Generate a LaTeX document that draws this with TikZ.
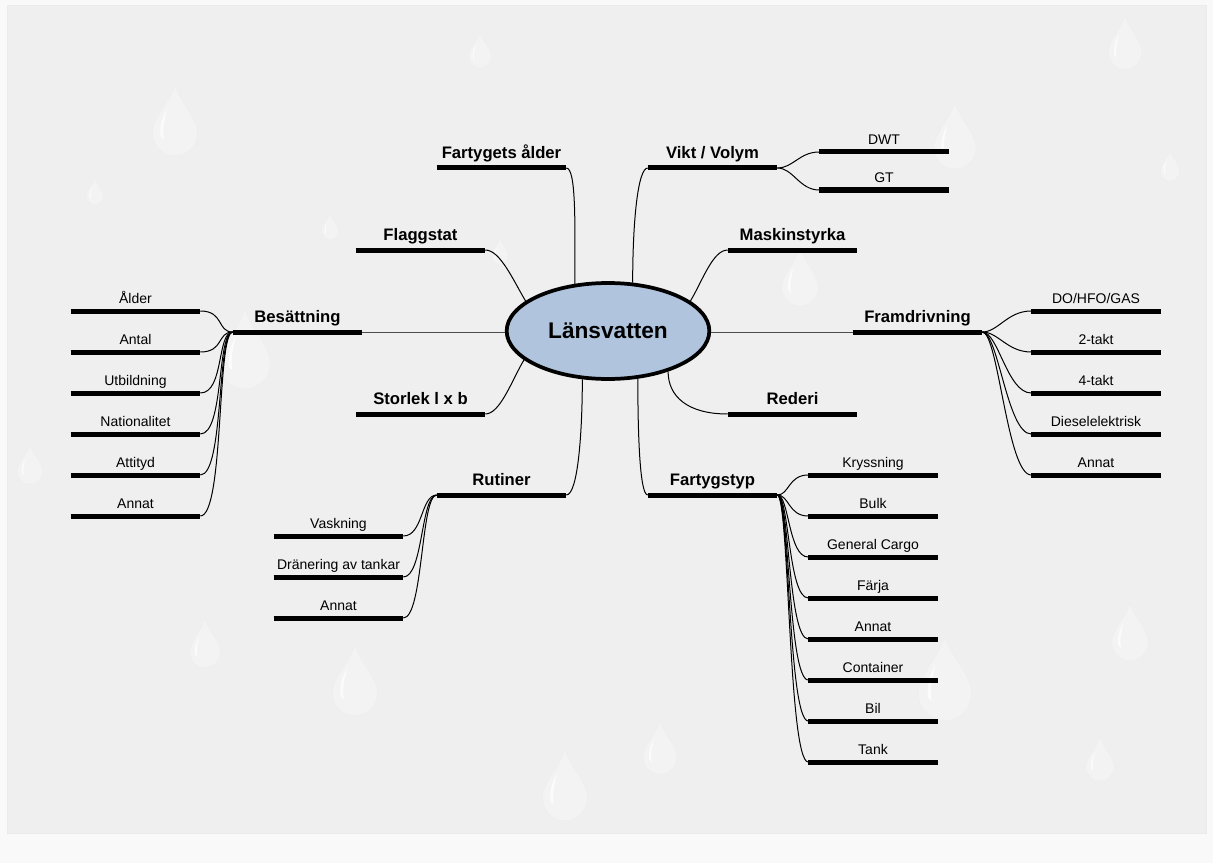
\documentclass[tikz,border=0pt]{standalone}
\usepackage{fontspec}
\setmainfont{Liberation Sans}
\usepackage{xcolor}
\usepackage{tikz}
\usetikzlibrary{shapes.geometric}

\definecolor{paper}{HTML}{EFEFEF}
\definecolor{hubfill}{HTML}{B0C4DE}

\tikzset{
    waterdrop/.pic={
        \filldraw[fill=white, fill opacity=0.3, draw=black!7, draw opacity=0.6] (0,-28) .. controls (4,-16) and (14,-8) .. (14,2)
            arc[start angle=0, end angle=180, radius=14] .. controls (-14,-8) and (-4,-16) .. cycle;
        \fill[white, opacity=0.7] (-9,4) .. controls (-10,-4) and (-7,-10) .. (-5,-13) .. controls (-7,-6) and (-8,0) .. (-7,6) -- cycle;
    }
}

\begin{document}
\begin{tikzpicture}[
    x=0.75pt, y=-0.75pt,
    hub/.style={ellipse, draw, line width=2.8pt, fill=hubfill, minimum width=152pt, minimum height=72pt, inner sep=0pt, font=\fontsize{17}{20}\selectfont\bfseries},
    topic/.style={anchor=south, minimum width=96.75pt, inner xsep=0pt, inner ysep=0pt, text height=9pt, text depth=6.75pt, font=\fontsize{12.5}{15}\selectfont\bfseries},
    sub/.style={anchor=south, minimum width=96.75pt, inner xsep=0pt, inner ysep=0pt, text height=7.5pt, text depth=5.25pt, font=\fontsize{10.5}{12}\selectfont},
    bar/.style={line width=3.75pt},
    link/.style={line width=0.75pt},
    flat/.style={line width=0.75pt, black!70}
]

% page
\fill[white!60!paper] (0,0) rectangle (1213,863);
\filldraw[fill=paper, draw=black!8] (7,5) rectangle (1206,833);

% drops in the background
\foreach \px/\py/\s in {175/130/1.6, 1125/50/1.2, 955/145/1.5, 245/360/1.8, 355/690/1.6, 565/795/1.6,
    1130/640/1.3, 800/285/1.3, 945/690/1.9, 205/650/1.1, 660/755/1.2, 30/470/0.9, 1100/765/1.0,
    480/55/0.8, 500/255/0.6, 330/230/0.6, 1170/170/0.7, 95/195/0.6}
    \pic[scale=\s] at (\px,\py) {waterdrop};

% centre
\node[hub] (core) at (608,331) {Länsvatten};

% main topics
\node[topic] (alder) at (501.5,168) {Fartygets ålder};
\node[topic] (vikt) at (712.5,168) {Vikt / Volym};
\node[topic] (flagg) at (420.5,250) {Flaggstat};
\node[topic] (maskin) at (792.5,250) {Maskinstyrka};
\node[topic] (besatt) at (297.5,332) {Besättning};
\node[topic] (framdr) at (917.5,332) {Framdrivning};
\node[topic] (storlek) at (420.5,414) {Storlek l x b};
\node[topic] (rederi) at (792.5,414) {Rederi};
\node[topic] (rutiner) at (501.5,495) {Rutiner};
\node[topic] (ftyp) at (712.5,495) {Fartygstyp};

\foreach \n in {alder,vikt,flagg,maskin,besatt,framdr,storlek,rederi,rutiner,ftyp}
    \draw[bar] (\n.south west) -- (\n.south east);

% links to the centre
\draw[link] (alder.south east) .. controls +(10,0) and +(0,-60) .. (core.125);
\draw[link] (vikt.south west) .. controls +(-10,0) and +(0,-60) .. (core.63);
\draw[link] (flagg.south east) .. controls +(15,0) and +(-12,-20) .. (core.160);
\draw[link] (maskin.south west) .. controls +(-15,0) and +(12,-20) .. (core.20);
\draw[flat] (besatt.south east) -- (besatt.south east -| core.west);
\draw[flat] (framdr.south west) -- (framdr.south west -| core.east);
\draw[link] (storlek.south east) .. controls +(15,0) and +(-12,20) .. (core.199);
\draw[link] (rederi.south west) .. controls +(-40,0) and +(0,25) .. (core.326);
\draw[link] (rutiner.south east) .. controls +(12,0) and +(0,50) .. (core.242);
\draw[link] (ftyp.south west) .. controls +(-8,0) and +(0,55) .. (core.302);

% sub topics
\foreach \t [count=\i] in {DWT,GT} {
    \node[sub] (vik\i) at (884,114+38*\i) {\t};
    \draw[bar] (vik\i.south west) -- (vik\i.south east);
    \draw[link] (vikt.south east) .. controls +(16,0) and +(-20,0) .. (vik\i.south west);
}
\foreach \t [count=\i] in {Ålder,Antal,Utbildning,Nationalitet,Attityd,Annat} {
    \node[sub] (bes\i) at (135.5,270+41*\i) {\t};
    \draw[bar] (bes\i.south west) -- (bes\i.south east);
    \draw[link] (besatt.south west) .. controls +(-16,0) and +(24,0) .. (bes\i.south east);
}
\foreach \t [count=\i] in {DO/HFO/GAS,2-takt,4-takt,Dieselelektrisk,Annat} {
    \node[sub] (fra\i) at (1096,270+41*\i) {\t};
    \draw[bar] (fra\i.south west) -- (fra\i.south east);
    \draw[link] (framdr.south east) .. controls +(16,0) and +(-24,0) .. (fra\i.south west);
}
\foreach \t [count=\i] in {Vaskning,Dränering av tankar,Annat} {
    \node[sub] (rut\i) at (338.5,495+41*\i) {\t};
    \draw[bar] (rut\i.south west) -- (rut\i.south east);
    \draw[link] (rutiner.south west) .. controls +(-16,0) and +(20,0) .. (rut\i.south east);
}
\foreach \t [count=\i] in {Kryssning,Bulk,General Cargo,Färja,Annat,Container,Bil,Tank} {
    \node[sub] (typ\i) at (873,434+41*\i) {\t};
    \draw[bar] (typ\i.south west) -- (typ\i.south east);
    \draw[link] (ftyp.south east) .. controls +(12,0) and +(-20,0) .. (typ\i.south west);
}

\end{tikzpicture}
\end{document}
